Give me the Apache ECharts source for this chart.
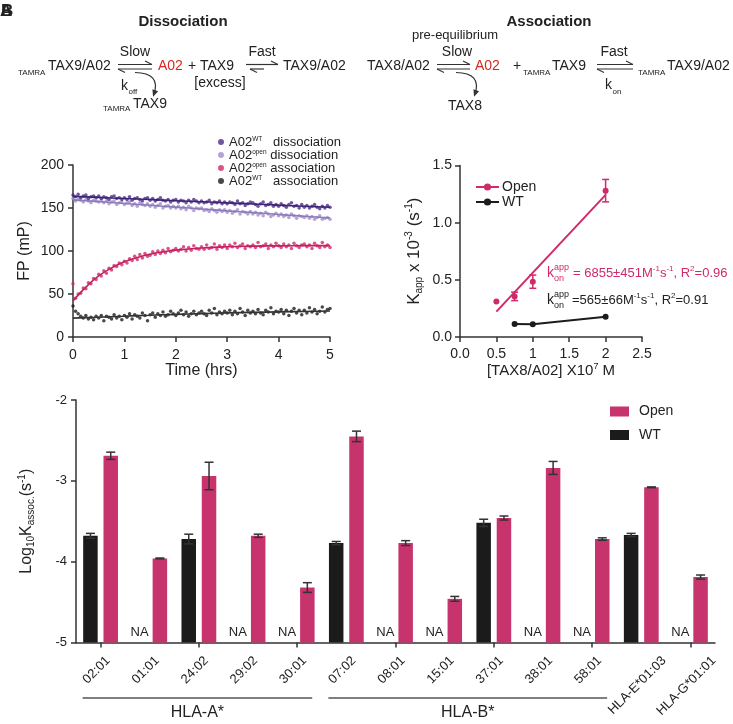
<!DOCTYPE html>
<html><head><meta charset="utf-8">
<script src="https://cdn.jsdelivr.net/npm/echarts@6/dist/echarts.min.js"></script>
<style>html,body{margin:0;padding:0;background:#fff}#c{width:733px;height:724px}</style>
</head><body><div id="c"></div>
<script>
// ---------- Panel: FP time courses ----------
const times = [0,0.05,0.1,0.15,0.2,0.25,0.3,0.35,0.4,0.45,0.5,0.55,0.6,0.65,0.7,0.75,0.8,0.85,0.9,0.95,1,1.05,1.1,1.15,1.2,1.25,1.3,1.35,1.4,1.45,1.5,1.55,1.6,1.65,1.7,1.75,1.8,1.85,1.9,1.95,2,2.05,2.1,2.15,2.2,2.25,2.3,2.35,2.4,2.45,2.5,2.55,2.6,2.65,2.7,2.75,2.8,2.85,2.9,2.95,3,3.05,3.1,3.15,3.2,3.25,3.3,3.35,3.4,3.45,3.5,3.55,3.6,3.65,3.7,3.75,3.8,3.85,3.9,3.95,4,4.05,4.1,4.15,4.2,4.25,4.3,4.35,4.4,4.45,4.5,4.55,4.6,4.65,4.7,4.75,4.8,4.85,4.9,4.95,5];
const wtDissFP = [165,163,166,162,164,165,161,163,164,162,164,161,163,162,160,163,164,161,162,160,162,160,163,159,161,162,160,158,161,162,159,161,158,160,162,159,158,160,157,159,160,157,159,158,156,159,157,160,158,156,158,156,157,159,155,157,156,158,155,157,155,157,156,154,158,155,156,153,155,157,156,154,152,155,157,153,154,156,152,154,152,155,153,151,154,156,152,153,150,154,151,153,150,152,154,151,149,152,150,153,151];
const openDissFP = [161,158,160,159,157,160,158,156,159,158,157,159,156,158,155,157,158,154,156,157,154,156,157,153,155,152,156,154,153,155,152,154,151,153,155,150,152,153,150,152,150,152,149,151,148,152,150,147,150,149,150,147,148,146,149,147,145,148,146,148,145,147,144,146,148,143,146,145,143,146,143,145,142,144,141,145,143,140,142,144,141,143,140,142,139,143,141,138,141,140,139,141,138,140,137,139,141,137,138,139,137];
const openAssocFP = [62,45,50,51,57,56,63,62,68,67,73,71,77,74,80,78,83,82,86,84,88,86,91,89,94,90,96,92,97,94,95,99,96,100,97,101,98,103,99,101,103,100,102,105,100,104,101,106,103,102,105,102,107,103,104,108,102,106,104,107,103,107,105,109,104,106,108,103,106,105,107,104,110,105,106,108,103,107,105,109,106,104,108,105,107,103,109,106,104,107,108,105,107,103,109,106,104,110,105,107,104];
const wtAssocFP = [36,30,27,24,22,25,21,23,20,24,22,25,19,24,23,21,26,22,24,20,25,23,27,21,26,24,22,28,25,19,26,28,23,27,25,29,24,26,30,27,25,28,31,26,29,24,27,30,26,28,30,27,25,31,28,33,26,29,27,30,28,31,26,30,27,33,29,25,31,28,30,27,32,28,26,31,29,34,27,30,29,32,27,31,25,30,33,28,31,26,31,28,34,29,32,27,30,35,29,32,33];
const fitTimes = [0,0.25,0.5,0.75,1,1.25,1.5,1.75,2,2.5,3,3.5,4,4.5,5];
const wtDissFit = [163.5,162.9,162.3,161.6,161,160.4,159.8,159.1,158.5,157.3,156,154.7,153.3,152,150.8];
const openDissFit = [159.5,158.5,157.4,156.4,155.3,154.2,153.2,152.1,151,148.9,146.7,144.6,142.5,140.4,138.3];
const openAssocFit = [42,58,71,80.3,87.5,92.5,96.3,99,101,103.5,105,105.7,106,106.2,106.3];
const wtAssocFit = [22,22.5,23,23.6,24.2,24.8,25.3,25.8,26.3,27.2,28,28.6,29.2,29.7,30.2];

// ---------- Panel: kapp vs concentration ----------
const concOpen = [0.5, 0.75, 1.0, 2.0];
const kappOpen = [0.31, 0.355, 0.484, 1.28];
const kappOpenErr = [0, 0.037, 0.058, 0.098];
const concWT = [0.75, 1.0, 2.0];
const kappWT = [0.114, 0.111, 0.178];
const fitConcOpen = [0.5, 2.0];
const fitKappOpen = [0.222, 1.243];
const concTickLabels = ['0.0','0.5','1','1.5','2','2.5'];

// ---------- Panel: log10 k_assoc bars ----------
const BASE = -5;
const alleles = ['02:01','01:01','24:02','29:02','30:01','07:02','08:01','15:01','37:01','38:01','58:01','HLA-E*01:03','HLA-G*01:01'];
const wtLogK = [-3.68, null, -3.72, null, null, -3.77, null, null, -3.52, null, null, -3.67, null];
const wtLogErr = [0.03, null, 0.06, null, null, 0.02, null, null, 0.045, null, null, 0.02, null];
const openLogK = [-2.69, -3.96, -2.94, -3.68, -4.32, -2.45, -3.77, -4.46, -3.46, -2.84, -3.72, -3.08, -4.19];
const openLogErr = [0.045, 0.005, 0.17, 0.02, 0.06, 0.065, 0.03, 0.03, 0.025, 0.08, 0.015, 0.005, 0.025];
const groups = [{name:'HLA-A*', from:0, to:4}, {name:'HLA-B*', from:5, to:10}];

// ---------- styles ----------
const FONT = '"Liberation Sans", Arial, Helvetica, sans-serif';
const TXT = '#222';
const PURPLE = '#4a2d8a', LILAC = '#a08ec9', PINK = '#cf2a6b', BLACK = '#1c1c1c';
const BAR_PINK = '#c7336d', BAR_BLACK = '#1b1b1b', RED = '#d8281f';
const AX = {color:'#333', width:1.5};

function axisBase(extra) {
  return Object.assign({
    axisLine:{show:true, onZero:false, lineStyle:AX},
    axisTick:{show:true, length:5, lineStyle:AX},
    splitLine:{show:false},
    axisLabel:{color:TXT, fontFamily:FONT, fontSize:14},
    nameLocation:'middle',
    nameTextStyle:{color:TXT, fontFamily:FONT, fontSize:16}
  }, extra);
}
function richBase(size, lh) {
  return {
    b:{fontSize:size, lineHeight:lh, fontFamily:FONT, color:TXT},
    sp:{fontSize:Math.round(size*0.6), lineHeight:Math.round(size*0.6), verticalAlign:'top', fontFamily:FONT, color:TXT},
    sb:{fontSize:Math.round(size*0.6), lineHeight:Math.round(size*0.6), verticalAlign:'bottom', fontFamily:FONT, color:TXT}
  };
}

const pairs = (xs, ys) => xs.map((x, i) => [x, ys[i]]);

const legendNames = {
  wtDiss:'{b|A02}{s|WT}{b|   dissociation}',
  openDiss:'{b|A02}{s|open}{b| dissociation}',
  openAssoc:'{b|A02}{s|open}{b| association}',
  wtAssoc:'{b|A02}{s|WT}{b|   association}',
  rOpen:'Open', rWT:'WT'
};

// error bar data
const kErrData = [];
concOpen.forEach((c, i) => { if (kappOpenErr[i] > 0) kErrData.push([c, kappOpen[i]-kappOpenErr[i], kappOpen[i]+kappOpenErr[i]]); });
const barErrData = [];
alleles.forEach((a, i) => {
  if (wtLogK[i] != null) barErrData.push([i, wtLogK[i]-wtLogErr[i]-BASE, wtLogK[i]+wtLogErr[i]-BASE, -1]);
  barErrData.push([i, openLogK[i]-openLogErr[i]-BASE, openLogK[i]+openLogErr[i]-BASE, 1]);
});
const BAR_W = 14.5, BAR_GAP = 0.4;
const BAR_OFF = (BAR_W + BAR_W*BAR_GAP)/2;

const option = {
  animation:false,
  backgroundColor:'#fff',
  grid:[
    {left:73, top:165, width:257, height:172, containLabel:false, outerBoundsMode:'none'},
    {left:460, top:165.5, width:182, height:171.5, containLabel:false, outerBoundsMode:'none'},
    {left:76, top:400, width:639, height:242.5, containLabel:false, outerBoundsMode:'none'}
  ],
  xAxis:[
    axisBase({gridIndex:0, type:'value', min:0, max:5, interval:1, name:'Time (hrs)', nameGap:22,
      axisLabel:{color:TXT, fontFamily:FONT, fontSize:14, margin:11}}),
    axisBase({gridIndex:1, type:'value', min:0, max:2.5, interval:0.5,
      name:'{b|[TAX8/A02] X10}{sp|7}{b| M}', nameGap:24,
      nameTextStyle:{rich:richBase(15, 18)},
      axisLabel:{color:TXT, fontFamily:FONT, fontSize:14, margin:10, formatter:v => concTickLabels[Math.round(v/0.5)]}}),
    axisBase({gridIndex:2, type:'category', data:alleles,
      axisTick:{show:true, length:5, alignWithLabel:true, lineStyle:AX},
      axisLabel:{show:false}})
  ],
  yAxis:[
    axisBase({gridIndex:0, type:'value', min:0, max:200, interval:50, name:'FP (mP)', nameGap:40,
      axisLabel:{color:TXT, fontFamily:FONT, fontSize:14, margin:9}}),
    axisBase({gridIndex:1, type:'value', min:0, max:1.5, interval:0.5,
      name:'{b|K}{sb|app}{b| x 10}{sp|-3}{b| (s}{sp|-1}{b|)}', nameGap:36,
      nameTextStyle:{rich:richBase(17, 20)},
      axisLabel:{color:TXT, fontFamily:FONT, fontSize:14, margin:8, formatter:v => v.toFixed(1)}}),
    axisBase({gridIndex:2, type:'value', min:0, max:3, interval:1,
      name:'{b|Log}{sb|10}{b|K}{sb|assoc.}{b|(s}{sp|-1}{b|)}', nameGap:40,
      nameTextStyle:{rich:richBase(16, 19)},
      axisLabel:{color:TXT, fontFamily:FONT, fontSize:13, margin:9, formatter:v => String(v + BASE)}})
  ],
  legend:[
    {data:['wtDiss','openDiss','openAssoc','wtAssoc'], orient:'vertical', left:218, top:135.5, itemGap:0, padding:0,
      icon:'circle', itemWidth:6, itemHeight:6, selectedMode:false,
      formatter:n => legendNames[n],
      textStyle:{rich:{b:{fontSize:13, lineHeight:13, fontFamily:FONT, color:TXT},
                       s:{fontSize:6.5, lineHeight:7, verticalAlign:'top', fontFamily:FONT, color:TXT}}}},
    {data:['rOpen','rWT'], orient:'vertical', left:475, top:179.5, itemGap:0, itemWidth:23, itemHeight:9, padding:0,
      selectedMode:false, formatter:n => legendNames[n],
      lineStyle:{width:2, opacity:1},
      textStyle:{fontSize:14, lineHeight:15, fontFamily:FONT, color:TXT, padding:[0,0,0,-2]}},
    {data:['Open','WT'], orient:'vertical', left:610, top:403.5, itemGap:7.5, itemWidth:19, itemHeight:10, padding:0,
      icon:'rect', selectedMode:false,
      textStyle:{fontSize:14, lineHeight:16, fontFamily:FONT, color:TXT, padding:[0,0,0,5]}}
  ],
  series:[
    {name:'openDiss', type:'scatter', xAxisIndex:0, yAxisIndex:0, symbolSize:3.5, itemStyle:{color:LILAC}, data:pairs(times, openDissFP)},
    {name:'wtDiss', type:'scatter', xAxisIndex:0, yAxisIndex:0, symbolSize:3.5, itemStyle:{color:PURPLE}, data:pairs(times, wtDissFP)},
    {name:'openAssoc', type:'scatter', xAxisIndex:0, yAxisIndex:0, symbolSize:3.5, itemStyle:{color:PINK}, data:pairs(times, openAssocFP)},
    {name:'wtAssoc', type:'scatter', xAxisIndex:0, yAxisIndex:0, symbolSize:3.5, itemStyle:{color:BLACK}, data:pairs(times, wtAssocFP)},
    {name:'fitOD', type:'line', xAxisIndex:0, yAxisIndex:0, smooth:true, showSymbol:false, lineStyle:{color:'#8d7ab8', width:1.6}, data:pairs(fitTimes, openDissFit)},
    {name:'fitWD', type:'line', xAxisIndex:0, yAxisIndex:0, smooth:true, showSymbol:false, lineStyle:{color:'#3c2275', width:1.6}, data:pairs(fitTimes, wtDissFit)},
    {name:'fitOA', type:'line', xAxisIndex:0, yAxisIndex:0, smooth:true, showSymbol:false, lineStyle:{color:'#c51f60', width:1.6}, data:pairs(fitTimes, openAssocFit)},
    {name:'fitWA', type:'line', xAxisIndex:0, yAxisIndex:0, smooth:true, showSymbol:false, lineStyle:{color:'#333', width:1.6}, data:pairs(fitTimes, wtAssocFit)},
    {name:'rOpenFit', type:'line', xAxisIndex:1, yAxisIndex:1, showSymbol:false, lineStyle:{color:PINK, width:2}, data:pairs(fitConcOpen, fitKappOpen)},
    {name:'rOpen', type:'line', xAxisIndex:1, yAxisIndex:1, symbol:'circle', symbolSize:6, itemStyle:{color:PINK}, lineStyle:{color:PINK, width:0, opacity:0}, data:pairs(concOpen, kappOpen), z:4},
    {name:'rWT', type:'line', xAxisIndex:1, yAxisIndex:1, symbol:'circle', symbolSize:6, itemStyle:{color:BLACK}, lineStyle:{color:BLACK, width:2}, data:pairs(concWT, kappWT)},
    {name:'rErr', type:'custom', xAxisIndex:1, yAxisIndex:1, encode:{x:0, y:[1,2]}, data:kErrData, z:5,
      renderItem:(params, api) => {
        const lo = api.coord([api.value(0), api.value(1)]), hi = api.coord([api.value(0), api.value(2)]);
        const hw = 3.5, st = {stroke:PINK, lineWidth:1.5};
        return {type:'group', children:[
          {type:'line', shape:{x1:lo[0], y1:lo[1], x2:hi[0], y2:hi[1]}, style:st},
          {type:'line', shape:{x1:lo[0]-hw, y1:lo[1], x2:lo[0]+hw, y2:lo[1]}, style:st},
          {type:'line', shape:{x1:hi[0]-hw, y1:hi[1], x2:hi[0]+hw, y2:hi[1]}, style:st}
        ]};
      }},
    {name:'WT', type:'bar', xAxisIndex:2, yAxisIndex:2, barWidth:BAR_W, barGap:(BAR_GAP*100)+'%', itemStyle:{color:BAR_BLACK},
      data:wtLogK.map(v => v == null ? {value:0, label:{show:true, position:'top', distance:4, formatter:'NA', fontSize:13, fontFamily:FONT, color:TXT}} : +(v - BASE).toFixed(3))},
    {name:'Open', type:'bar', xAxisIndex:2, yAxisIndex:2, barWidth:BAR_W, barGap:(BAR_GAP*100)+'%', itemStyle:{color:BAR_PINK},
      data:openLogK.map(v => +(v - BASE).toFixed(3))},
    {name:'barErr', type:'custom', xAxisIndex:2, yAxisIndex:2, encode:{x:0, y:[1,2]}, data:barErrData, z:5,
      renderItem:(params, api) => {
        const off = api.value(3) * BAR_OFF;
        const lo = api.coord([api.value(0), api.value(1)]), hi = api.coord([api.value(0), api.value(2)]);
        const x = lo[0] + off, hw = 4.5, st = {stroke:'#333', lineWidth:1.5};
        return {type:'group', children:[
          {type:'line', shape:{x1:x, y1:lo[1], x2:x, y2:hi[1]}, style:st},
          {type:'line', shape:{x1:x-hw, y1:lo[1], x2:x+hw, y2:lo[1]}, style:st},
          {type:'line', shape:{x1:x-hw, y1:hi[1], x2:x+hw, y2:hi[1]}, style:st}
        ]};
      }}
  ]
};

const chart = echarts.init(document.getElementById('c'), null, {renderer:'canvas'});
chart.setOption(option);

// ---------- graphics: schemes, annotations, rotated labels ----------
const G = [];
function T(x, y, text, size, o) {
  o = o || {};
  const st = {text:text, fill:o.color || TXT, font:(o.bold ? 'bold ' : '') + size + 'px ' + FONT,
    align:o.align || 'left', textAlign:o.align || 'left', verticalAlign:'middle', textVerticalAlign:'middle'};
  if (o.rich) st.rich = o.rich;
  const el = {type:'text', x:x, y:y, silent:true, style:st, z:10};
  if (o.rotation) el.rotation = o.rotation;
  G.push(el);
}
function L(x1, y1, x2, y2, c, w) {
  G.push({type:'line', silent:true, shape:{x1:x1, y1:y1, x2:x2, y2:y2}, style:{stroke:c || '#333', lineWidth:w || 1.2}, z:10});
}
function harp(x1, x2, y, bx1, bx2) {
  L(x1, y, x2, y); L(x2 - 7, y - 3.5, x2, y);
  L(bx1, y + 4.5, bx2, y + 4.5); L(bx1, y + 4.5, bx1 + 7, y + 8);
}
function curveArrow(x1, y1, cx, cy, x2, y2) {
  G.push({type:'bezierCurve', silent:true, shape:{x1:x1, y1:y1, cpx1:cx, cpy1:cy, x2:x2, y2:y2}, style:{stroke:'#333', lineWidth:1.2, fill:null}, z:10});
  const dx = x2 - cx, dy = y2 - cy, d = Math.hypot(dx, dy), ux = dx/d, uy = dy/d;
  const tx = x2 + ux*3, ty = y2 + uy*3, bx = tx - ux*7, by = ty - uy*7;
  G.push({type:'polygon', silent:true, shape:{points:[[tx, ty], [bx - uy*3, by + ux*3], [bx + uy*3, by - ux*3]]}, style:{fill:'#333'}, z:10});
}
const SUBS = 8;
// panel letter
T(0, 11, 'A', 17, {bold:true}); T(1, 11, 'B', 17, {bold:true});
// Dissociation scheme
T(183, 22, 'Dissociation', 15, {bold:true, align:'center'});
T(18, 73, 'TAMRA', SUBS);
T(48, 66.5, 'TAX9/A02', 14);
T(135, 52.5, 'Slow', 14, {align:'center'});
harp(118, 152, 64.5, 118, 152);
T(158, 66.5, 'A02', 14, {color:RED});
T(188, 66.5, '+', 14);
T(200, 66.5, 'TAX9', 14);
T(262, 52.5, 'Fast', 14, {align:'center'});
harp(246, 278, 64.5, 250, 264);
T(283, 66.5, 'TAX9/A02', 14);
T(220, 83, '[excess]', 14, {align:'center'});
T(121, 86, 'k', 14); T(128.5, 92, 'off', SUBS);
curveArrow(135, 72.5, 161, 73, 154, 94);
T(103, 109, 'TAMRA', SUBS);
T(133, 104, 'TAX9', 14);
// Association scheme
T(549, 22, 'Association', 15, {bold:true, align:'center'});
T(455, 35.5, 'pre-equilibrium', 13, {align:'center'});
T(457, 52.5, 'Slow', 14, {align:'center'});
T(367, 66.5, 'TAX8/A02', 14);
harp(437, 470, 64.5, 437, 470);
T(475, 66.5, 'A02', 14, {color:RED});
T(513, 66.5, '+', 14);
T(523, 73, 'TAMRA', SUBS);
T(552, 66.5, 'TAX9', 14);
T(614, 52.5, 'Fast', 14, {align:'center'});
harp(597, 633, 64.5, 597, 633);
T(605, 85.5, 'k', 14); T(612.5, 92, 'on', SUBS);
T(638, 73, 'TAMRA', SUBS);
T(667, 66.5, 'TAX9/A02', 14);
curveArrow(456, 72.5, 482, 73, 475, 94);
T(465, 106, 'TAX8', 14, {align:'center'});
// kon annotations
function annRich(color) {
  return {b:{fontSize:13, lineHeight:16, fontFamily:FONT, fill:color, color:color},
          sp:{fontSize:8, lineHeight:8, verticalAlign:'top', fontFamily:FONT, fill:color, color:color}};
}
T(547, 273, 'k', 14, {color:PINK}); T(554, 268, 'app', 9, {color:PINK}); T(554, 279, 'on', 9, {color:PINK});
T(573, 273, '{b|= 6855±451M}{sp|-1}{b|s}{sp|-1}{b|, R}{sp|2}{b|=0.96}', 13, {color:PINK, rich:annRich(PINK)});
T(547, 300, 'k', 14); T(554, 295, 'app', 9); T(554, 306, 'on', 9);
T(572, 300, '{b|=565±66M}{sp|-1}{b|s}{sp|-1}{b|, R}{sp|2}{b|=0.91}', 13, {rich:annRich(TXT)});

// rotated allele labels + group brackets, positioned from the category axis
const ctx = document.createElement('canvas').getContext('2d');
const LBL = 13;
ctx.font = LBL + 'px ' + FONT;
const tickX = alleles.map((a, i) => chart.convertToPixel({gridIndex:2}, [i, 0])[0]);
alleles.forEach((a, i) => {
  const w = ctx.measureText(a).width;
  const cy = 654 + 0.354 * (w + LBL);
  T(tickX[i] - 4, cy, a, LBL, {align:'center', rotation:Math.PI/4});
});
groups.forEach(g => {
  const x1 = tickX[g.from] - 18, x2 = tickX[g.to] + 15;
  L(x1, 698, x2, 698, '#555', 1.5);
  T((x1 + x2)/2, 713, g.name, 16, {align:'center'});
});

chart.setOption({graphic:G});
</script>
</body></html>
